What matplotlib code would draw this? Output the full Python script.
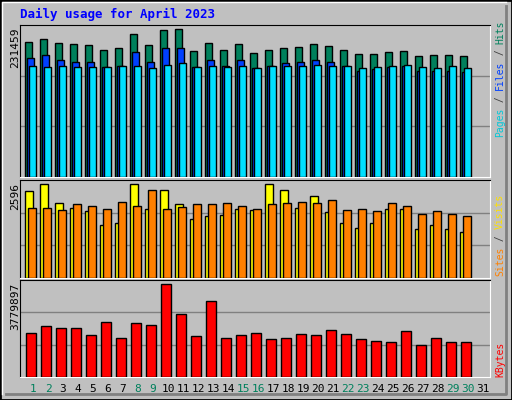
import matplotlib
matplotlib.use('Agg')
import matplotlib.pyplot as plt
from matplotlib.patches import Rectangle
from matplotlib.lines import Line2D

days = list(range(1, 32))
weekend = [1, 2, 8, 9, 15, 16, 22, 23, 29, 30]

hits = [210990, 215713, 209415, 207841, 206266, 198393, 201542, 223586, 206266, 229885,
        231459, 196819, 209415, 198393, 207841, 193670, 198393, 201542, 203117, 207841,
        204692, 198393, 192095, 192095, 195244, 196819, 188947, 190521, 190521, 188947]
files = [185850, 190575, 182700, 179550, 179550, 171675, 173250, 195300, 179550, 201600,
         201600, 171675, 182700, 173250, 182700, 170100, 173250, 177975, 179550, 182700,
         179550, 173250, 166950, 168525, 171675, 173250, 166950, 166950, 166950, 165375]
pages = [173250, 171675, 173250, 171675, 171675, 171675, 173250, 173250, 170100, 174825,
         177975, 171675, 173250, 171675, 173250, 170100, 173250, 173250, 173250, 174825,
         173250, 173250, 170100, 171675, 173250, 174825, 171675, 170100, 173250, 170100]
sites = [2399, 2596, 2060, 1947, 1862, 1467, 1524, 2596, 1919, 2427,
         2032, 1637, 1721, 1750, 1919, 1891, 2596, 2427, 1947, 2257,
         1834, 1524, 1383, 1524, 1919, 1919, 1354, 1467, 1354, 1270]
visits = [1947, 1947, 1891, 2032, 2003, 1919, 2088, 2003, 2427, 1919,
          1975, 2032, 2032, 2060, 2003, 1919, 2032, 2060, 2088, 2060,
          2145, 1891, 1919, 1862, 2060, 2003, 1778, 1862, 1778, 1721]
kbytes = [1793350, 2083045, 2000275, 2000275, 1710580, 2248585, 1586425, 2207200, 2124430, 3779897,
          2579665, 1669195, 3076285, 1586425, 1710580, 1793350, 1545040, 1586425, 1751965, 1710580,
          1917505, 1751965, 1545040, 1462270, 1420885, 1876120, 1296730, 1586425, 1420885, 1420885]

BG = '#C0C0C0'
W, H = 512, 400
fig = plt.figure(figsize=(W / 100, H / 100), dpi=100, facecolor=BG)

# outer bevel frame
fig.add_artist(Rectangle((0, 0), 1, 1, transform=fig.transFigure, fill=False, ec='black', lw=2))
fig.add_artist(Line2D([2 / W, 2 / W, 1 - 6 / W], [6 / H, 1 - 2 / H, 1 - 2 / H], transform=fig.transFigure, color='white', lw=1))
fig.add_artist(Line2D([6 / W, 1 - 6 / W, 1 - 6 / W], [6 / H, 6 / H, 1 - 6 / H], transform=fig.transFigure, color='#808080', lw=2))


def panel(top, bottom):
    ax = fig.add_axes([20 / W, (H - bottom) / H, 470 / W, (bottom - top) / H])
    ax.set_facecolor(BG)
    ax.set_xlim(0, 470 / 15)
    ax.set_xticks([])
    ax.set_yticks([])
    for s in ax.spines.values():
        s.set_color('black')
    ax.spines['right'].set_color('white')
    ax.spines['bottom'].set_color('white')
    return ax


def bars(ax, vals, off, width, color):
    x = [d - 1 + off / 15 for d in days[:len(vals)]]
    ax.bar(x, vals, width=width / 15, align='edge', color=color, edgecolor='black', lw=1, zorder=3)


def grid(ax, top):
    ax.set_ylim(0, top)
    for f in (1 / 3, 2 / 3):
        ax.axhline(top * f, color='#808080', lw=1, zorder=1)


mono = 'DejaVu Sans Mono'

ax1 = panel(25, 177)
grid(ax1, max(hits) * 454 / 441)
bars(ax1, hits, 5, 7, '#00805C')
bars(ax1, files, 7, 7, '#0040FF')
bars(ax1, pages, 9, 7, '#00E0FF')

ax2 = panel(180, 278)
grid(ax2, max(sites) * 288 / 276)
bars(ax2, sites, 5, 8, '#FFFF00')
bars(ax2, visits, 8, 8, '#FF8000')

ax3 = panel(280, 377)
grid(ax3, max(kbytes) * 286 / 274)
bars(ax3, kbytes, 6, 10, '#FF0000')

fig.text(20 / W, 1 - 14 / H, 'Daily usage for April 2023', color='#0000FF',
         family=mono, weight='bold', fontsize=9, va='center')

for lab, y in ((str(max(hits)), 28), (str(max(sites)), 183), (str(max(kbytes)), 283)):
    fig.text(15 / W, 1 - y / H, lab, rotation=90, family=mono, fontsize=8,
             ha='center', va='top')

for d in days:
    fig.text((20 + (d - 1) * 15 + 13) / W, 1 - 389 / H, str(d), family=mono, fontsize=8,
             color='#00805C' if d in weekend else 'black', ha='center', va='center')


def side(parts, y_bottom):
    y = y_bottom
    adv = 0.6 * 7 * 100 / 72
    for txt, col in parts:
        fig.text(500 / W, 1 - y / H, txt, rotation=90, family=mono,
                 fontsize=7, color=col, ha='center', va='bottom')
        y -= len(txt) * adv


side([('Pages', '#00C8D8'), (' / ', '#404040'), ('Files', '#0040FF'), (' / ', '#404040'), ('Hits', '#00805C')], 137)
side([('Sites', '#FF8000'), (' / ', '#404040'), ('Visits', '#FFE000')], 276)
side([('KBytes', '#FF0000')], 377)

fig.savefig('out.png', dpi=100, facecolor=BG)
